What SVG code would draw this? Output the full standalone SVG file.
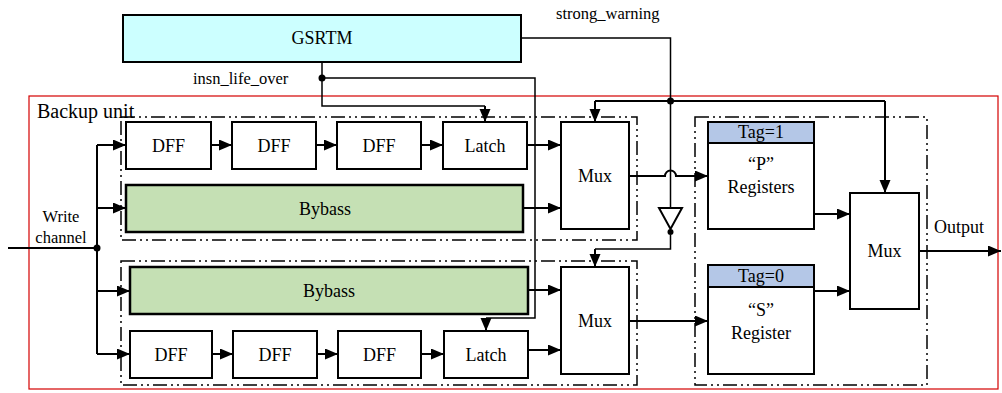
<svg xmlns="http://www.w3.org/2000/svg" width="1002" height="393" viewBox="0 0 1002 393">
  <style>
    .box { fill: #ffffff; stroke: #000; stroke-width: 2; }
    .gsrtm { fill: #ccffff; stroke: #000; stroke-width: 2; }
    .bypass { fill: #c5e0b4; stroke: #000; stroke-width: 2.5; }
    .tag { fill: #b4c7e7; stroke: #000; stroke-width: 2; }
    .grp { fill: none; stroke: #000; stroke-width: 1.5; stroke-dasharray: 14 4 2 4 2 4; }
    .unit { fill: none; stroke: #d40000; stroke-width: 1.2; }
    .wire { fill: none; stroke: #000; stroke-width: 2; }
    .sig { fill: none; stroke: #000; stroke-width: 1.5; }
    text { font-family: "Liberation Serif", "Times New Roman", "DejaVu Serif", serif; font-size: 18px; fill: #000; }
    .c { text-anchor: middle; }
    .s { font-size: 16.5px; }
    .big { font-size: 20px; }
  </style>
  <defs>
    <marker id="arrow" markerUnits="userSpaceOnUse" markerWidth="14" markerHeight="12" refX="13" refY="5.5" orient="auto">
      <path d="M0,0 L13,5.5 L0,11 z" fill="#000"/>
    </marker>
  </defs>

  <!-- backup unit frame and sub-groups -->
  <rect class="unit" x="29" y="96" width="969" height="293"/>
  <text class="big" x="37" y="118">Backup unit</text>
  <rect class="grp" x="121" y="117" width="516" height="123"/>
  <rect class="grp" x="121" y="261" width="516" height="124"/>
  <rect class="grp" x="695" y="117" width="232" height="268"/>

  <g id="gsrtm">
    <rect class="gsrtm" x="123" y="15" width="398" height="47"/>
    <text class="c" x="322" y="44">GSRTM</text>
  </g>

  <!-- upper path: delay chain and bypass -->
  <g id="dff-a1"><rect class="box" x="126" y="122" width="85" height="47"/><text class="c" x="168.5" y="152">DFF</text></g>
  <g id="dff-a2"><rect class="box" x="232" y="122" width="84" height="47"/><text class="c" x="274" y="152">DFF</text></g>
  <g id="dff-a3"><rect class="box" x="337" y="122" width="84" height="47"/><text class="c" x="379" y="152">DFF</text></g>
  <g id="latch-a"><rect class="box" x="443" y="122" width="84" height="47"/><text class="c" x="485" y="152">Latch</text></g>
  <g id="bypass-a"><rect class="bypass" x="126" y="185" width="397" height="47"/><text class="c" x="325" y="215">Bybass</text></g>
  <g id="mux-a"><rect class="box" x="561" y="122" width="68" height="107"/><text class="c" x="595" y="182">Mux</text></g>

  <!-- lower path: bypass and delay chain -->
  <g id="bypass-b"><rect class="bypass" x="130" y="267" width="398" height="47"/><text class="c" x="329" y="297">Bybass</text></g>
  <g id="dff-b1"><rect class="box" x="130" y="331" width="82" height="47"/><text class="c" x="171" y="361">DFF</text></g>
  <g id="dff-b2"><rect class="box" x="233" y="331" width="84" height="47"/><text class="c" x="275" y="361">DFF</text></g>
  <g id="dff-b3"><rect class="box" x="338" y="331" width="83" height="47"/><text class="c" x="379.5" y="361">DFF</text></g>
  <g id="latch-b"><rect class="box" x="444" y="331" width="84" height="47"/><text class="c" x="486" y="361">Latch</text></g>
  <g id="mux-b"><rect class="box" x="561" y="267" width="68" height="107"/><text class="c" x="595" y="327">Mux</text></g>

  <!-- register banks -->
  <g id="reg-p">
    <rect class="box" x="708" y="122" width="106" height="107"/>
    <rect class="tag" x="708" y="122" width="106" height="21"/>
    <text class="c" x="761" y="138">Tag=1</text>
    <text class="c" x="761" y="170">“P”</text>
    <text class="c" x="761" y="193">Registers</text>
  </g>
  <g id="reg-s">
    <rect class="box" x="708" y="265" width="106" height="109"/>
    <rect class="tag" x="708" y="265" width="106" height="22"/>
    <text class="c" x="761" y="282">Tag=0</text>
    <text class="c" x="761" y="316">“S”</text>
    <text class="c" x="761" y="339">Register</text>
  </g>
  <g id="mux-out"><rect class="box" x="850" y="193" width="69" height="116"/><text class="c" x="884.5" y="257">Mux</text></g>

  <g id="inverter">
    <polygon points="659,208 682,208 670.5,229" fill="#fff" stroke="#000" stroke-width="2"/>
    <circle cx="670.5" cy="232" r="3" fill="#000"/>
  </g>

  <!-- labels -->
  <text class="s" x="556" y="19">strong_warning</text>
  <text class="s" x="193" y="84">insn_life_over</text>
  <text class="c s" x="61" y="222">Write</text>
  <text class="c s" x="61" y="243">channel</text>
  <text x="934" y="233">Output</text>

  <g id="connectors">
    <!-- write channel fan-out -->
    <path class="wire" d="M8,248 H97"/>
    <path class="wire" d="M97,145 V354"/>
    <path class="wire" d="M97,145 H126" marker-end="url(#arrow)"/>
    <path class="wire" d="M97,208 H126" marker-end="url(#arrow)"/>
    <path class="wire" d="M97,291 H130" marker-end="url(#arrow)"/>
    <path class="wire" d="M97,354 H130" marker-end="url(#arrow)"/>
    <circle cx="97" cy="248" r="3.5" fill="#000"/>

    <!-- upper chain -->
    <path class="wire" d="M211,145 H232" marker-end="url(#arrow)"/>
    <path class="wire" d="M316,145 H337" marker-end="url(#arrow)"/>
    <path class="wire" d="M421,145 H443" marker-end="url(#arrow)"/>
    <path class="wire" d="M527,145 H561" marker-end="url(#arrow)"/>
    <path class="wire" d="M523,208 H561" marker-end="url(#arrow)"/>

    <!-- lower chain -->
    <path class="wire" d="M212,354 H233" marker-end="url(#arrow)"/>
    <path class="wire" d="M317,354 H338" marker-end="url(#arrow)"/>
    <path class="wire" d="M421,354 H444" marker-end="url(#arrow)"/>
    <path class="wire" d="M528,350 H561" marker-end="url(#arrow)"/>
    <path class="wire" d="M528,290 H561" marker-end="url(#arrow)"/>

    <!-- mux outputs to register banks (hop over strong_warning) -->
    <path class="wire" d="M629,176 H665 A5.5,5.5 0 0 1 676,176 H708" marker-end="url(#arrow)"/>
    <path class="wire" d="M629,321 H708" marker-end="url(#arrow)"/>
    <path class="wire" d="M814,214 H850" marker-end="url(#arrow)"/>
    <path class="wire" d="M814,291 H850" marker-end="url(#arrow)"/>
    <path class="wire" d="M919,251 H1001" marker-end="url(#arrow)"/>

    <!-- insn_life_over -->
    <path class="sig" d="M322,62 V106 H485"/>
    <path class="wire" d="M485,106 V122" marker-end="url(#arrow)"/>
    <path class="sig" d="M322,78 H535 V318 H486"/>
    <path class="wire" d="M486,318 V331" marker-end="url(#arrow)"/>
    <circle cx="322" cy="78" r="3.5" fill="#000"/>

    <!-- strong_warning -->
    <path class="sig" d="M521,38 H670.5 V208"/>
    <path class="wire" d="M595,101 H885"/>
    <path class="wire" d="M595,101 V122" marker-end="url(#arrow)"/>
    <path class="wire" d="M885,101 V193" marker-end="url(#arrow)"/>
    <circle cx="670.5" cy="101" r="3.5" fill="#000"/>
    <path class="sig" d="M670.5,235 V249 H595"/>
    <path class="wire" d="M595,249 V267" marker-end="url(#arrow)"/>
  </g>
</svg>
